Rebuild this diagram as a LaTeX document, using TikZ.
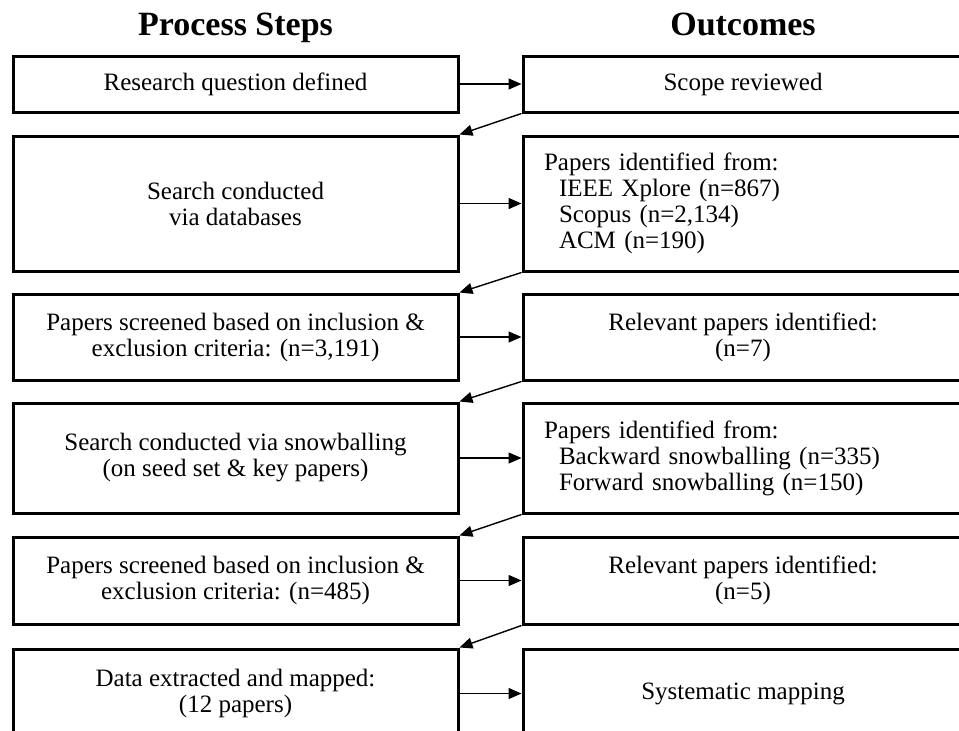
\documentclass[tikz,border=0pt]{standalone}
\usepackage{fontspec}
\setmainfont{Liberation Serif}
\usetikzlibrary{arrows.meta}
\begin{document}
\begin{tikzpicture}[x=1pt,y=-1pt,
  boxL/.style={draw,line width=3pt,minimum width=445pt,align=center,
    font=\fontsize{25}{26}\selectfont,inner sep=0pt},
  boxR/.style={draw,line width=3pt,minimum width=440pt,align=center,
    font=\fontsize{25}{26}\selectfont,inner sep=0pt},
  boxRl/.style={boxR,align=left,text width=398pt,inner xsep=21pt},
  head/.style={font=\fontsize{34}{36}\selectfont\bfseries,anchor=base},
  arr/.style={line width=1.4pt,-{Triangle[length=13pt,width=11pt]}}]
\path[use as bounding box] (0,0) rectangle (959,731);
\clip (0,0) rectangle (959,731);
\node[head] (hL) at (235.5,35) {Process Steps};
\node[head] (hR) at (743,35) {Outcomes};
% left column
\node[boxL,minimum height=56pt] (L1) at (235.5,84) {Research question defined};
\node[boxL,minimum height=135pt] (L2) at (235.5,203.5) {Search conducted\\via databases};
\node[boxL,minimum height=86pt] (L3) at (235.5,337) {Papers screened based on inclusion \&\\exclusion criteria: (n=3,191)};
\node[boxL,minimum height=110pt] (L4) at (235.5,458) {Search conducted via snowballing\\(on seed set \& key papers)};
\node[boxL,minimum height=87pt] (L5) at (235.5,580.5) {Papers screened based on inclusion \&\\exclusion criteria: (n=485)};
\node[boxL,minimum height=89pt] (L6) at (235.5,693.5) {Data extracted and mapped:\\(12 papers)};
% right column
\node[boxR,minimum height=56pt] (R1) at (743,84) {Scope reviewed};
\node[boxRl,minimum height=135pt] (R2) at (743,203.5) {Papers identified from:\\\hspace*{15pt}IEEE Xplore (n=867)\\\hspace*{15pt}Scopus (n=2,134)\\\hspace*{15pt}ACM (n=190)};
\node[boxR,minimum height=86pt] (R3) at (743,337) {Relevant papers identified:\\(n=7)};
\node[boxRl,minimum height=110pt] (R4) at (743,458) {Papers identified from:\\\hspace*{15pt}Backward snowballing (n=335)\\\hspace*{15pt}Forward snowballing (n=150)};
\node[boxR,minimum height=87pt] (R5) at (743,580.5) {Relevant papers identified:\\(n=5)};
\node[boxR,minimum height=89pt] (R6) at (743,693.5) {Systematic mapping};
% arrows
\foreach \i in {1,...,6} {\draw[arr] (L\i.east) -- (R\i.west);}
\foreach \i/\j in {1/2,2/3,3/4,4/5,5/6} {\draw[arr] (R\i.south west) -- (L\j.north east);}
\end{tikzpicture}
\end{document}
